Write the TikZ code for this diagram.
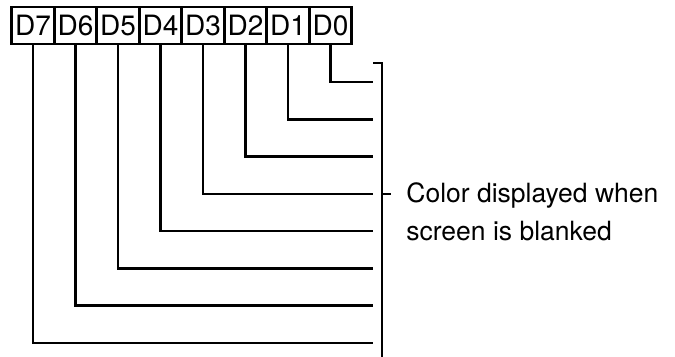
\documentclass[tikz,border=0pt]{standalone}
\usepackage{fontspec}
\setmainfont{TeX Gyre Heros}
\usetikzlibrary{positioning}

\begin{document}
\begin{tikzpicture}[
    x=0.5pt, y=-0.5pt,
    bitbox/.style={draw,line width=1.3pt,outer sep=0pt,inner sep=0pt,
        minimum width=21.25pt,minimum height=18.5pt,font=\fontsize{14}{16}\selectfont},
    wire/.style={draw,line width=1.3pt}
]
\useasboundingbox (0,0) rectangle (675,357);
\node[bitbox] (d7) at (33,25.5) {D7};
\foreach \b [remember=\b as \prev (initially 7)] in {6,5,...,0}
    \node[bitbox,right=0pt of d\prev] (d\b) {D\b};
\foreach \b in {0,...,7} {
    \coordinate (e\b) at (373,82+37.3*\b);
    \draw[wire] (d\b.south) |- (e\b);
}
\coordinate (btop) at (373,63);
\coordinate (bbot) at (382,357);
\coordinate (bmid) at (382,194);
\coordinate (btick) at (391,194);
\draw[wire] (btop) -| (bbot);
\draw[wire] (bmid) -- (btick);
\node[anchor=west,align=left,inner sep=0pt,font=\fontsize{13.25}{19}\selectfont]
    (note) at (406,212) {Color displayed when\\screen is blanked};
\end{tikzpicture}
\end{document}
